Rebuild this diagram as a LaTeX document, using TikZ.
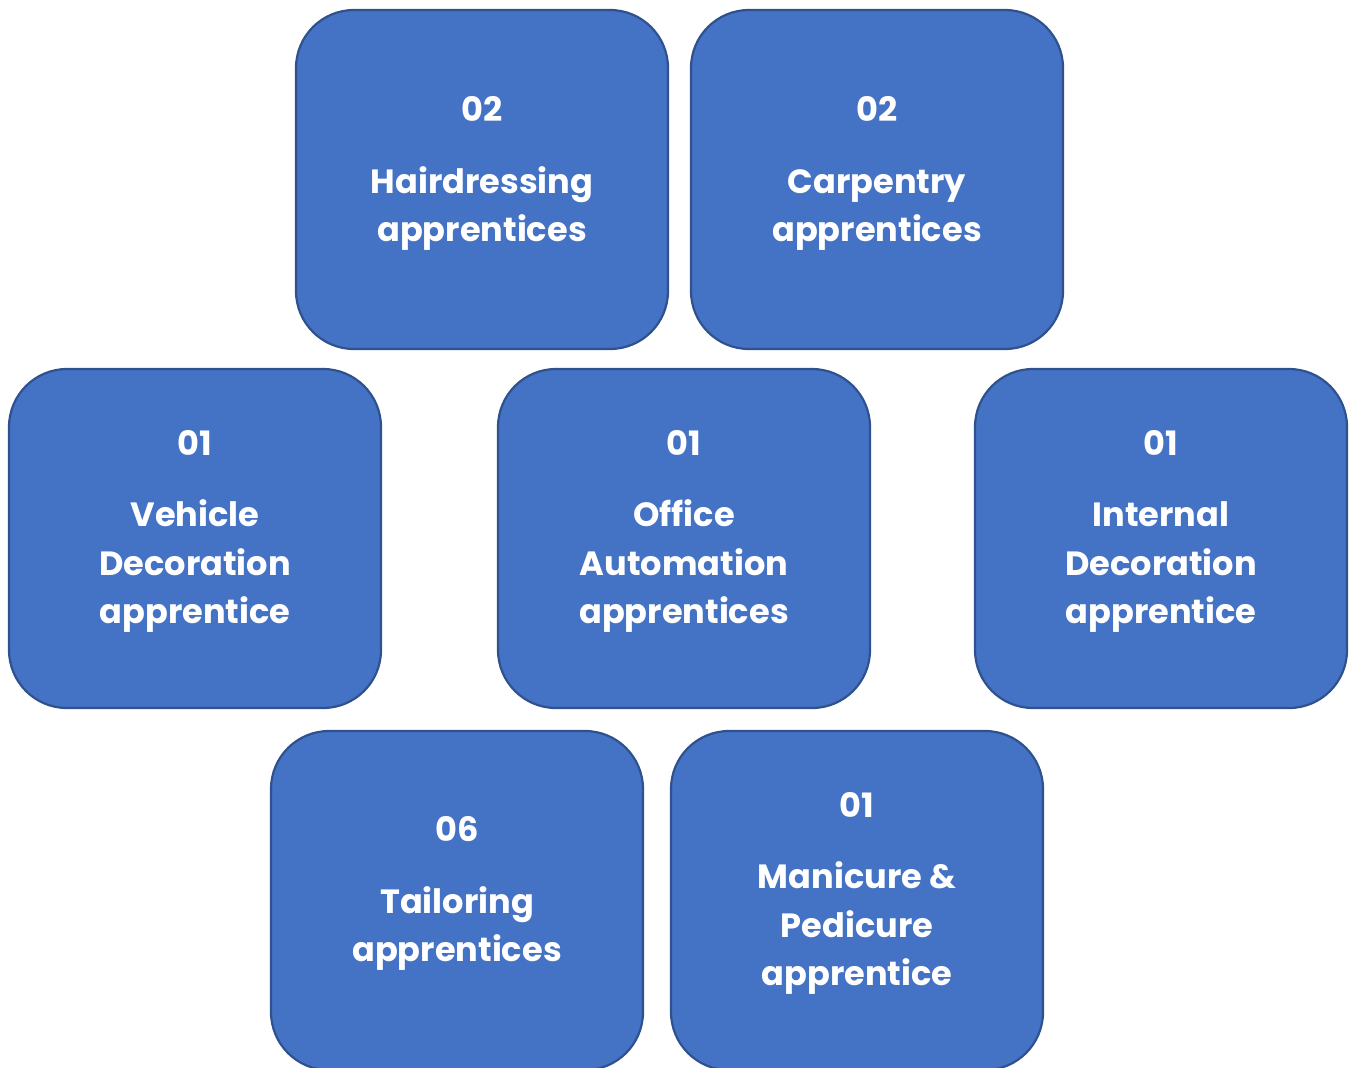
\documentclass[tikz,border=0pt]{standalone}
\usepackage{fontspec}
\setmainfont{Poppins}
\definecolor{boxfill}{HTML}{4472C4}
\definecolor{boxline}{HTML}{2F528F}
\tikzset{
  card/.style={draw=boxline, line width=1.1pt, fill=boxfill, rounded corners=29pt,
    minimum width=186pt, minimum height=169.5pt, inner sep=0pt},
  cardtext/.style={text=white, font=\fontsize{16.8pt}{24.2pt}\selectfont\bfseries,
    align=center, inner sep=0pt}
}
\begin{document}
\begin{tikzpicture}[x=0.5pt,y=-0.5pt]
\useasboundingbox (0,0) rectangle (1352,1067);
\clip (0,0) rectangle (1352,1067);
\node[card] (b1) at (482,179.5) {};
\node[card] (b2) at (877,179.5) {};
\node[card] (b3) at (195,538.5) {};
\node[card] (b4) at (684,538.5) {};
\node[card] (b5) at (1161,538.5) {};
\node[card] (b6) at (457,900.5) {};
\node[card] (b7) at (857,900.5) {};
\node[cardtext] (t1) at ([yshift=3pt]b1.center) {02\\[11.5pt]Hairdressing\\apprentices};
\node[cardtext] (t2) at ([yshift=3pt]b2.center) {02\\[11.5pt]Carpentry\\apprentices};
\node[cardtext] (t3) at ([yshift=3.5pt]b3.center) {01\\[11.5pt]Vehicle\\Decoration\\apprentice};
\node[cardtext] (t4) at ([yshift=3.5pt]b4.center) {01\\[11.5pt]Office\\Automation\\apprentices};
\node[cardtext] (t5) at ([yshift=3.5pt]b5.center) {01\\[11.5pt]Internal\\Decoration\\apprentice};
\node[cardtext] (t6) at ([yshift=3.5pt]b6.center) {06\\[11.5pt]Tailoring\\apprentices};
\node[cardtext] (t7) at ([yshift=3.5pt]b7.center) {01\\[11.5pt]Manicure \&\\Pedicure\\apprentice};
\end{tikzpicture}
\end{document}
